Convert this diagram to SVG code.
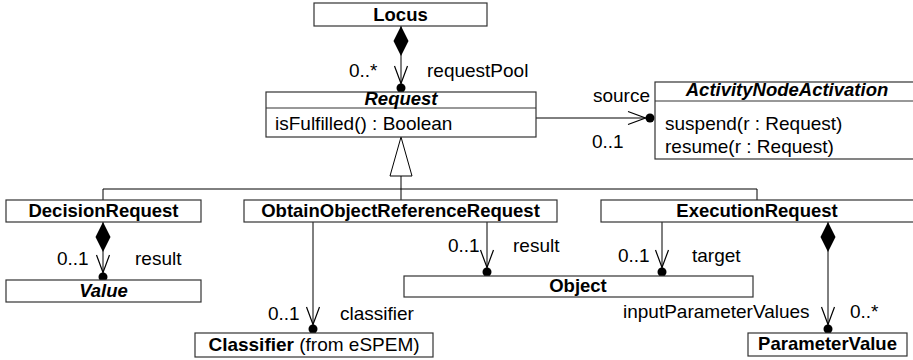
<svg xmlns="http://www.w3.org/2000/svg" width="913" height="360" viewBox="0 0 913 360">
  <style>
    text { font-family: "Liberation Sans", Arial, sans-serif; font-size: 19px; fill: #000; }
    .name { font-weight: bold; font-size: 18.5px; text-anchor: middle; }
    .abstract { font-weight: bold; font-style: italic; font-size: 18.5px; text-anchor: middle; }
    .box { fill: #fff; stroke: #333; stroke-width: 1.2; }
    .sep { stroke: #333; stroke-width: 1.2; }
    .edge { fill: none; stroke: #000; stroke-width: 1; }
    .gen { fill: #fff; stroke: #000; stroke-width: 1; }
  </style>
  <defs>
    <!-- navigable end: open arrowhead followed by an ownership dot -->
    <marker id="navDot" markerUnits="userSpaceOnUse" viewBox="-24 -8 30 16" refX="0" refY="0" markerWidth="30" markerHeight="16" orient="auto" overflow="visible">
      <path d="M-22,-6.5 L-4.5,0 L-22,6.5" fill="none" stroke="#000" stroke-width="1.2"/>
      <circle cx="0" cy="0" r="4.5" fill="#000"/>
    </marker>
    <!-- composite aggregation diamond at the owning end -->
    <marker id="diamond" markerUnits="userSpaceOnUse" viewBox="0 -8 30 16" refX="0" refY="0" markerWidth="30" markerHeight="16" orient="auto" overflow="visible">
      <path d="M0,0 L15,-7.5 L30,0 L15,7.5 Z" fill="#000"/>
    </marker>
  </defs>

  <!-- connectors -->
  <g id="connectors">
    <!-- Locus -> Request (requestPool) -->
    <path class="edge" d="M401,26 L401,88" marker-start="url(#diamond)" marker-end="url(#navDot)"/>
    <!-- Request -> ActivityNodeActivation (source) -->
    <path class="edge" d="M536,118 L650,118" marker-end="url(#navDot)"/>
    <!-- generalization tree -->
    <path class="edge" d="M401,176 L401,200 M103,189 L757,189 M103,189 L103,200 M757,189 L757,200"/>
    <polygon class="gen" points="401,137 390,176 412,176"/>
    <!-- DecisionRequest -> Value (result) -->
    <path class="edge" d="M103,222 L103,277" marker-start="url(#diamond)" marker-end="url(#navDot)"/>
    <!-- ObtainObjectReferenceRequest -> Classifier (classifier) -->
    <path class="edge" d="M313,222 L313,329" marker-end="url(#navDot)"/>
    <!-- ObtainObjectReferenceRequest -> Object (result) -->
    <path class="edge" d="M487,222 L487,272" marker-end="url(#navDot)"/>
    <!-- ExecutionRequest -> Object (target) -->
    <path class="edge" d="M662,222 L662,272" marker-end="url(#navDot)"/>
    <!-- ExecutionRequest -> ParameterValue (inputParameterValues) -->
    <path class="edge" d="M828,222 L828,329" marker-start="url(#diamond)" marker-end="url(#navDot)"/>

    <text x="349" y="77">0..*</text>
    <text x="427" y="77">requestPool</text>
    <text x="650" y="102" text-anchor="end">source</text>
    <text x="592" y="148">0..1</text>
    <text x="57" y="265">0..1</text>
    <text x="135" y="265">result</text>
    <text x="268" y="320">0..1</text>
    <text x="340" y="320">classifier</text>
    <text x="448" y="252">0..1</text>
    <text x="513" y="252">result</text>
    <text x="618" y="262">0..1</text>
    <text x="692" y="262">target</text>
    <text x="623" y="318">inputParameterValues</text>
    <text x="850" y="318">0..*</text>
  </g>

  <g id="Locus">
    <rect class="box" x="314" y="3" width="173" height="23"/>
    <text class="name" x="400.5" y="21">Locus</text>
  </g>

  <g id="Request">
    <rect class="box" x="266" y="92" width="270" height="45"/>
    <line class="sep" x1="266" y1="108" x2="536" y2="108"/>
    <text class="abstract" x="401" y="105">Request</text>
    <text x="275" y="130">isFulfilled() : Boolean</text>
  </g>

  <g id="ActivityNodeActivation">
    <rect class="box" x="655" y="82" width="262" height="77"/>
    <line class="sep" x1="655" y1="101" x2="917" y2="101"/>
    <text class="abstract" x="787" y="96">ActivityNodeActivation</text>
    <text x="665" y="130">suspend(r : Request)</text>
    <text x="665" y="153">resume(r : Request)</text>
  </g>

  <g id="DecisionRequest">
    <rect class="box" x="6" y="200" width="195" height="22"/>
    <text class="name" x="103.5" y="217">DecisionRequest</text>
  </g>

  <g id="ObtainObjectReferenceRequest">
    <rect class="box" x="244" y="200" width="313" height="22"/>
    <text class="name" x="400.5" y="217">ObtainObjectReferenceRequest</text>
  </g>

  <g id="ExecutionRequest">
    <rect class="box" x="601" y="200" width="316" height="22"/>
    <text class="name" x="757" y="217">ExecutionRequest</text>
  </g>

  <g id="Value">
    <rect class="box" x="6" y="280" width="195" height="22"/>
    <text class="abstract" x="103.5" y="297">Value</text>
  </g>

  <g id="Object">
    <rect class="box" x="404" y="276" width="349" height="21"/>
    <text class="name" x="578" y="292">Object</text>
  </g>

  <g id="Classifier">
    <rect class="box" x="195" y="333" width="238" height="24"/>
    <text x="314" y="351" text-anchor="middle"><tspan font-weight="bold">Classifier</tspan> (from eSPEM)</text>
  </g>

  <g id="ParameterValue">
    <rect class="box" x="748" y="333" width="159" height="23"/>
    <text class="name" x="827.5" y="350">ParameterValue</text>
  </g>
</svg>
